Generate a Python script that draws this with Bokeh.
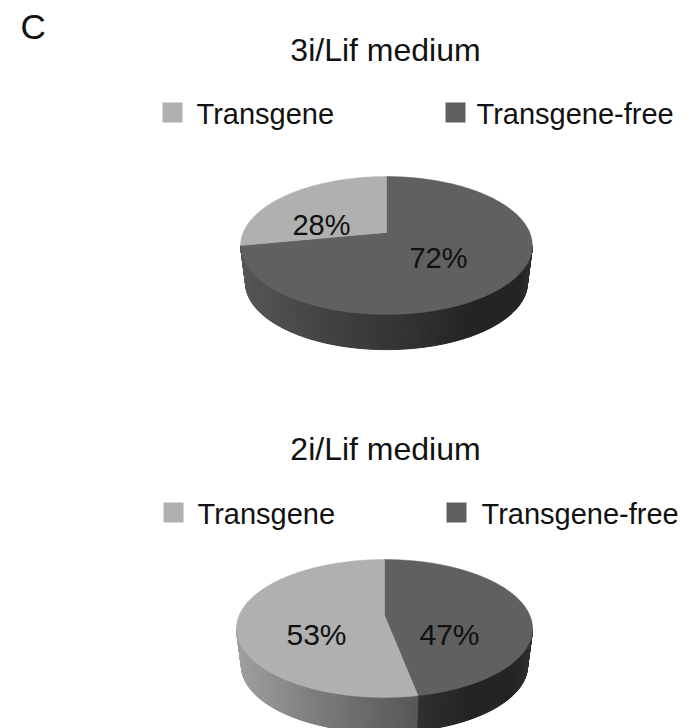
from bokeh.embed import file_html
from bokeh.resources import INLINE
from bokeh.plotting import figure
from bokeh.core.properties import value
import numpy as np

# Composition of each culture medium, percent of clones
panel_label = "C"
medium_titles = ["3i/Lif medium", "2i/Lif medium"]
series_names = ["Transgene-free", "Transgene"]
percent_3i = [72, 28]
percent_2i = [47, 53]
series_colors = [(96, 96, 96), (176, 176, 176)]

FONT = value("Liberation Sans")

p = figure(width=696, height=728, x_range=(0, 696), y_range=(728, 0),
           output_backend="svg", toolbar_location=None, min_border=0,
           outline_line_color=None, background_fill_color="white",
           border_fill_color="white")
p.axis.visible = False
p.grid.visible = False

# Perspective projection of a flat disc: the far half is compressed
HALF_W, Y_SCALE, PERSP = 145.4, 66.5, -0.188
DEPTH, BASE_SHRINK = 38.0, 0.966
SHADE_X = [0.0, 0.3, 0.6, 0.8, 0.95, 1.0]
SHADE_K = [0.90, 0.68, 0.50, 0.36, 0.38, 0.52]


def project(theta, x_scale=1.0):
    u, v = np.sin(theta), -np.cos(theta)
    d = 1 + PERSP * v
    return x_scale * HALF_W * u / d, Y_SCALE * v / d


def rgb(c, k=1.0):
    return "#%02x%02x%02x" % tuple(int(round(min(255, x * k))) for x in c)


def draw_pie(cx, cy, percents, x_scale=1.0):
    edges = np.concatenate([[0], np.cumsum(percents)]) / np.sum(percents) * 2 * np.pi

    # Rim: thin strips between the top edge and the base edge, front arc only
    xs, ys, cols = [], [], []
    for i, col in enumerate(series_colors):
        a0, a1 = edges[i], edges[i + 1]
        n = max(2, int((a1 - a0) / np.radians(1)))
        t = np.linspace(a0, a1, n + 1)
        for t0, t1 in zip(t[:-1], t[1:]):
            x0, y0 = project(t0, x_scale)
            x1, y1 = project(t1, x_scale)
            if x1 >= x0:
                continue
            xs.append([cx + x0, cx + x1,
                       cx + x1 * BASE_SHRINK, cx + x0 * BASE_SHRINK])
            ys.append([cy + y0, cy + y1,
                       cy + DEPTH + y1 * BASE_SHRINK, cy + DEPTH + y0 * BASE_SHRINK])
            frac = ((x0 + x1) / 2 + 148) / 296
            cols.append(rgb(col, np.interp(frac, SHADE_X, SHADE_K)))
    p.patches(xs, ys, fill_color=cols, line_color=cols, line_width=1)

    # Top face of every slice, fanned out of the shared apex
    for i, col in enumerate(series_colors):
        t = np.linspace(edges[i], edges[i + 1], 200)
        x, y = project(t, x_scale)
        p.patch(np.r_[cx, cx + x], np.r_[cy, cy + y],
                fill_color=rgb(col), line_color=rgb(col), line_width=0.5)


def draw_text(x, y, txt, size, align="left"):
    p.text([x], [y], text=[txt], text_font=FONT, text_font_size=size,
           text_color="#111111", text_align=align, text_baseline="middle")


def draw_legend(y, x_light, x_light_text, x_dark, x_dark_text):
    for x, c in ((x_light, series_colors[1]), (x_dark, series_colors[0])):
        p.quad(left=[x], right=[x + 20], top=[y - 10], bottom=[y + 10],
               fill_color=rgb(c), line_color=None)
    draw_text(x_light_text, y + 1, series_names[1], "29px")
    draw_text(x_dark_text, y + 1, series_names[0], "29px")


draw_text(20, 26, panel_label, "35px")

draw_text(385, 49, medium_titles[0], "32px", "center")
draw_legend(112, 162, 196, 445, 476)
draw_pie(386, 232, percent_3i, 0.985)
draw_text(321, 224, f"{percent_3i[1]}%", "29px", "center")
draw_text(438, 257, f"{percent_3i[0]}%", "29px", "center")

draw_text(385, 448, medium_titles[1], "32px", "center")
draw_legend(512, 163, 197, 446, 481)
draw_pie(384, 615, percent_2i)
draw_text(316, 634, f"{percent_2i[1]}%", "30px", "center")
draw_text(449, 634, f"{percent_2i[0]}%", "30px", "center")

open("out.html", "w").write(file_html(p, INLINE))
